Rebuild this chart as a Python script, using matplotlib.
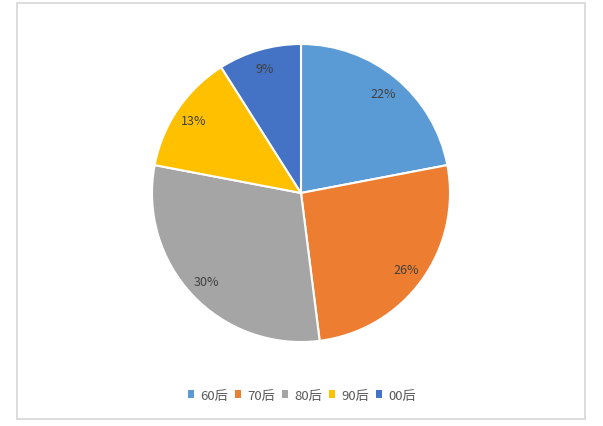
import matplotlib
matplotlib.use("Agg")
import matplotlib.pyplot as plt
from matplotlib.patches import Rectangle, Patch

plt.rcParams['font.family'] = ['Noto Sans CJK SC', 'DejaVu Sans']

categories = ["60后", "70后", "80后", "90后", "00后"]
shares = [22, 26, 30, 13, 9]
colors = ["#5B9BD5", "#ED7D31", "#A5A5A5", "#FFC000", "#4472C4"]

fig = plt.figure(figsize=(6.03, 4.27), dpi=100)

# chart border
fig.patches.append(Rectangle((17 / 603, 1 - 420 / 427), 568 / 603, 416 / 427,
                             transform=fig.transFigure, fill=False,
                             edgecolor="#D9D9D9", linewidth=1.3))

# pie centre ~ (301, 194) px, radius ~149 px
ax = fig.add_axes([152 / 603, (427 - 343) / 427, 298 / 603, 298 / 427])
wedges, texts, autotexts = ax.pie(
    shares, colors=colors, startangle=90, counterclock=False,
    autopct="%d%%", pctdistance=0.87, radius=1,
    wedgeprops=dict(edgecolor="white", linewidth=1.5),
    textprops=dict(color="#404040", fontsize=9))
ax.set_xlim(-1, 1)
ax.set_ylim(-1, 1)
ax.set_aspect("equal")
ax.axis("off")

handles = [Patch(facecolor=c, edgecolor="none") for c in colors]
fig.legend(handles, categories, loc="center", bbox_to_anchor=(302 / 603, 1 - 396 / 427),
           ncol=5, frameon=False, fontsize=9.5, handlelength=0.5, handleheight=0.5,
           handletextpad=0.45, columnspacing=0.5, labelcolor="#595959",
           borderpad=0, borderaxespad=0)

fig.savefig("out.png", dpi=100)
